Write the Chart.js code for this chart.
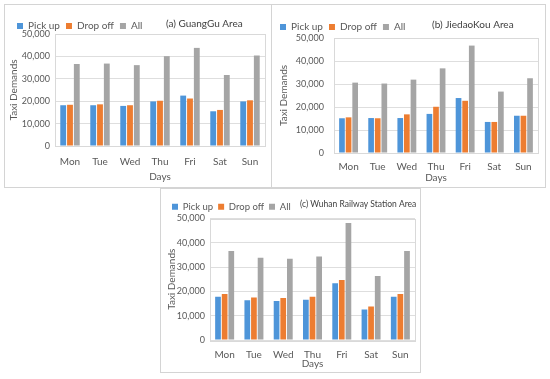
<!DOCTYPE html>
<html lang="en">
<head>
    <meta charset="UTF-8">
    <title>Taxi Demands by Day</title>
    <script src="https://cdn.jsdelivr.net/npm/chart.js"></script>
    <style>
        html, body {
            margin: 0;
            padding: 0;
            width: 550px;
            height: 379px;
            background: #fff;
            overflow: hidden;
        }
        .box {
            position: absolute;
            border: 1px solid #d4d4d4;
        }
        #boxA { left: 4px; top: 4px; width: 266px; height: 182px; }
        #boxB { left: 271px; top: 4px; width: 273px; height: 182px; }
        #boxC { left: 160px; top: 188px; width: 259px; height: 183px; }
        canvas { display: block; }
    </style>
</head>
<body>
    <div class="box" id="boxA"><canvas id="chartA"></canvas></div>
    <div class="box" id="boxB"><canvas id="chartB"></canvas></div>
    <div class="box" id="boxC"><canvas id="chartC"></canvas></div>

    <script>
        // Daten
        const days = ['Mon', 'Tue', 'Wed', 'Thu', 'Fri', 'Sat', 'Sun'];
        const yTicks = [0, 10000, 20000, 30000, 40000, 50000];

        // (a) GuangGu Area
        const guangguPickup  = [18200, 18200, 17900, 19900, 22500, 15500, 19900];
        const guangguDropoff = [18400, 18600, 18200, 20200, 21200, 16100, 20400];
        const guangguAll     = [36600, 36800, 36100, 40100, 43800, 31700, 40400];

        // (b) JiedaoKou Area
        const jiedaoPickup  = [15100, 15200, 15200, 17000, 23900, 13500, 16200];
        const jiedaoDropoff = [15500, 15100, 16800, 20100, 22700, 13500, 16200];
        const jiedaoAll     = [30600, 30200, 31900, 36800, 46700, 26700, 32500];

        // (c) Wuhan Railway Station Area
        const wuhanPickup  = [17800, 16400, 16000, 16600, 23400, 12600, 17800];
        const wuhanDropoff = [18900, 17500, 17300, 17800, 24700, 13800, 18900];
        const wuhanAll     = [36600, 33800, 33400, 34400, 48100, 26300, 36600];

        const FONT = 'Lato';
        const TEXT = '#595959';

        // Titel neben der Legende + Rahmen um den Plotbereich
        const areaPlugin = {
            id: 'areaTitle',
            beforeUpdate(chart) {
                // Abstand zwischen Legende und Plot verkleinern
                const lg = chart.legend;
                if (lg && !lg._trimmed) {
                    const fit = lg.fit.bind(lg);
                    const trim = chart.options.plugins.areaTitle.legendTrim;
                    lg.fit = function () { fit(); this.height -= trim; };
                    lg._trimmed = true;
                }
            },
            afterDraw(chart) {
                const o = chart.options.plugins.areaTitle;
                const ctx = chart.ctx;
                const a = chart.chartArea;
                ctx.save();
                ctx.strokeStyle = '#d9d9d9';
                ctx.lineWidth = 1;
                ctx.strokeRect(Math.round(a.left) + 0.5, Math.round(a.top) + 0.5,
                    Math.round(a.right - a.left), Math.round(a.bottom - a.top));
                const hb = chart.legend.legendHitBoxes[0];
                ctx.font = o.size + 'px ' + FONT;
                ctx.fillStyle = '#404040';
                ctx.textAlign = 'left';
                ctx.textBaseline = 'middle';
                ctx.fillText(o.text, o.x, hb.top + hb.height / 2 - 2);
                ctx.restore();
            }
        };

        function makeChart(id, w, h, pickup, dropoff, all, s) {
            const canvas = document.getElementById(id);
            canvas.width = w;
            canvas.height = h;
            return new Chart(canvas.getContext('2d'), {
                type: 'bar',
                data: {
                    labels: days,
                    datasets: [
                        { label: 'Pick up', data: pickup, backgroundColor: '#4e95d9' },
                        { label: 'Drop off', data: dropoff, backgroundColor: '#ed7d31' },
                        { label: 'All', data: all, backgroundColor: '#a5a5a5' }
                    ]
                },
                options: {
                    responsive: false,
                    animation: false,
                    devicePixelRatio: 1,
                    layout: { padding: { left: s.padL, top: s.padT, right: s.padR, bottom: 0 } },
                    datasets: { bar: { categoryPercentage: 0.68, barPercentage: 0.86 } },
                    scales: {
                        x: {
                            grid: { display: false, drawTicks: false },
                            border: { display: false },
                            ticks: { color: TEXT, font: { family: FONT, size: 10 }, padding: s.xTickPad },
                            title: { display: true, text: 'Days', color: TEXT, font: { family: FONT, size: 10 },
                                     padding: { top: 0, bottom: s.daysPad } },
                            afterFit(scale) { scale.height = s.xH; }
                        },
                        y: {
                            min: 0,
                            max: 50000,
                            afterBuildTicks(scale) { scale.ticks = yTicks.map(v => ({ value: v })); },
                            grid: { color: '#dedede', drawTicks: false },
                            border: { display: false },
                            ticks: { color: TEXT, font: { family: FONT, size: 9 }, padding: s.yTickPad },
                            title: { display: true, text: 'Taxi Demands', color: TEXT, font: { family: FONT, size: 10 },
                                     padding: { top: s.yTitlePad, bottom: 0 } },
                            afterFit(scale) { scale.width = s.yW; }
                        }
                    },
                    plugins: {
                        legend: {
                            position: 'top',
                            align: 'start',
                            labels: { boxWidth: 6, boxHeight: 6, padding: s.legPad, color: TEXT,
                                      font: { family: FONT, size: s.legSize } }
                        },
                        tooltip: { enabled: false },
                        areaTitle: { text: s.title, x: s.titleX, size: s.titleSize, legendTrim: s.trim }
                    }
                },
                plugins: [areaPlugin]
            });
        }

        makeChart('chartA', 266, 182, guangguPickup, guangguDropoff, guangguAll,
            { title: '(a) GuangGu Area', titleX: 161, titleSize: 10, padL: 6, padT: 10, padR: 6,
              trim: 7, legPad: 6, legSize: 10, yW: 44, xH: 41,
              xTickPad: 10, daysPad: 4, yTickPad: 5, yTitlePad: -3 });
        makeChart('chartB', 273, 182, jiedaoPickup, jiedaoDropoff, jiedaoAll,
            { title: '(b) JiedaoKou Area', titleX: 160, titleSize: 10, padL: 2, padT: 11, padR: 7,
              trim: 4, legPad: 6, legSize: 10, yW: 60, xH: 34,
              xTickPad: 8, daysPad: 3, yTickPad: 10, yTitlePad: 4 });
        makeChart('chartC', 259, 183, wuhanPickup, wuhanDropoff, wuhanAll,
            { title: '(c) Wuhan Railway Station Area', titleX: 139, titleSize: 8.5, padL: 6, padT: 8, padR: 5,
              trim: 3, legPad: 5, legSize: 9.5, yW: 43, xH: 32,
              xTickPad: 9, daysPad: 2, yTickPad: 5, yTitlePad: -1 });
    </script>
</body>
</html>
